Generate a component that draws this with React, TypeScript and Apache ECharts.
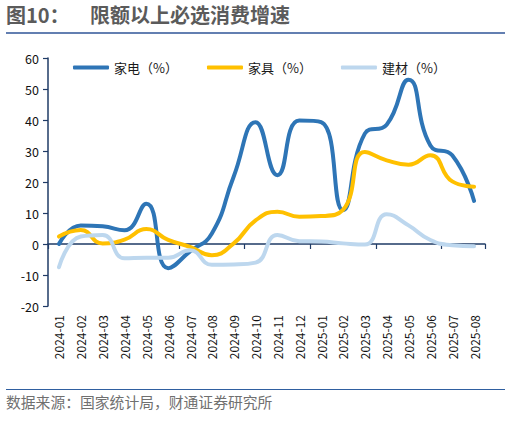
import React, { useEffect, useRef } from 'react';
import * as echarts from 'echarts';

// 月份
const months = [
  '2024-01', '2024-02', '2024-03', '2024-04', '2024-05', '2024-06', '2024-07',
  '2024-08', '2024-09', '2024-10', '2024-11', '2024-12', '2025-01', '2025-02',
  '2025-03', '2025-04', '2025-05', '2025-06', '2025-07', '2025-08',
];

// 家电（%）
const appliance = [0, 6.0, 5.7, 4.4, 13.0, -7.8, -2.4, 3.4, 21.8, 39.3, 22.2, 39.8, 39.3, 10.9, 35.6, 38.5, 53.0, 31.8, 28.6, 13.9];
// 家具（%）
const furniture = [2.4, 4.5, 0.2, 1.4, 4.8, 1.3, -0.9, -3.6, 0.2, 7.6, 10.4, 8.8, 9.0, 11.0, 29.7, 27.0, 25.6, 28.6, 20.2, 18.5];
// 建材（%）
const buildingMat = [-7.5, 2.4, 2.9, -4.6, -4.4, -4.4, -2.0, -6.7, -6.6, -6.0, 2.9, 0.9, 0.8, 0.2, -0.2, 9.6, 6.0, 1.3, -0.4, -0.7];

const yTicks = { min: -20, max: 60, interval: 10 };

const AXIS_COLOR = '#1f3b66';
const FONT = '"Noto Sans CJK SC", "Noto Sans", sans-serif';

const Chart: React.FC = () => {
  const chartRef = useRef<HTMLDivElement>(null);

  useEffect(() => {
    if (!chartRef.current) return;
    const chart = echarts.init(chartRef.current, undefined, { renderer: 'svg' });

    const lineSeries = (name: string, data: number[], color: string) => ({
      name,
      type: 'line' as const,
      data,
      smooth: true,
      showSymbol: false,
      xAxisIndex: 0,
      lineStyle: { color, width: 4, cap: 'round' as const },
      itemStyle: { color },
    });

    const option: echarts.EChartsOption = {
      animation: false,
      backgroundColor: '#fff',
      textStyle: { fontFamily: FONT },
      graphic: [
        {
          type: 'text',
          left: 6,
          top: 4,
          style: { text: '图10：', fontSize: 20, fontWeight: 'bold', fill: '#5b5b5b', fontFamily: FONT },
        },
        {
          type: 'text',
          left: 90,
          top: 4,
          style: { text: '限额以上必选消费增速', fontSize: 20, fontWeight: 'bold', fill: '#5b5b5b', fontFamily: FONT },
        },
        {
          type: 'line',
          shape: { x1: 6, y1: 33, x2: 505, y2: 33 },
          style: { stroke: '#2f5597', lineWidth: 1.5 },
        },
        {
          type: 'line',
          shape: { x1: 6, y1: 389.5, x2: 505, y2: 389.5 },
          style: { stroke: '#2f5fa0', lineWidth: 1.2 },
        },
        {
          type: 'text',
          left: 6,
          top: 394,
          style: { text: '数据来源：国家统计局，财通证券研究所', fontSize: 14.8, fill: '#707070', fontFamily: FONT },
        },
      ],
      legend: {
        top: 56,
        left: 68,
        icon: 'roundRect',
        itemWidth: 36,
        itemHeight: 4,
        itemGap: 29,
        textStyle: { fontSize: 13, color: '#1a1a1a', fontFamily: FONT },
        data: ['家电（%）', '家具（%）', '建材（%）'],
      },
      grid: { left: 48, right: 26, top: 58, bottom: 117, containLabel: false },
      xAxis: [
        {
          type: 'category',
          data: months,
          boundaryGap: true,
          axisLine: { onZero: true, lineStyle: { color: AXIS_COLOR, width: 1.5 } },
          axisTick: { show: true, length: 5, lineStyle: { color: AXIS_COLOR, width: 1.2 } },
          axisLabel: { show: false },
          splitLine: { show: false },
        },
        {
          type: 'category',
          data: months,
          position: 'bottom',
          boundaryGap: true,
          axisLine: { show: false, onZero: false },
          axisTick: { show: false },
          axisLabel: { rotate: 90, margin: 9, fontSize: 12, color: '#111', fontFamily: FONT },
          splitLine: { show: false },
        },
      ],
      yAxis: {
        type: 'value',
        min: yTicks.min,
        max: yTicks.max,
        interval: yTicks.interval,
        axisLine: { show: true, lineStyle: { color: AXIS_COLOR, width: 1.5 } },
        axisTick: { show: true, length: 5, lineStyle: { color: AXIS_COLOR, width: 1.2 } },
        axisLabel: { fontSize: 12.5, color: '#111', margin: 9, fontFamily: FONT },
        splitLine: { show: false },
      },
      series: [
        lineSeries('家电（%）', appliance, '#2e75b6'),
        lineSeries('家具（%）', furniture, '#ffc000'),
        lineSeries('建材（%）', buildingMat, '#bdd7ee'),
      ],
    };

    chart.setOption(option);

    return () => {
      chart.dispose();
    };
  }, []);

  return (
    <div
      ref={chartRef}
      style={{ position: 'fixed', left: 0, top: 0, width: 511, height: 423, background: '#fff' }}
    />
  );
};

export default function App() {
  return <Chart />;
}
